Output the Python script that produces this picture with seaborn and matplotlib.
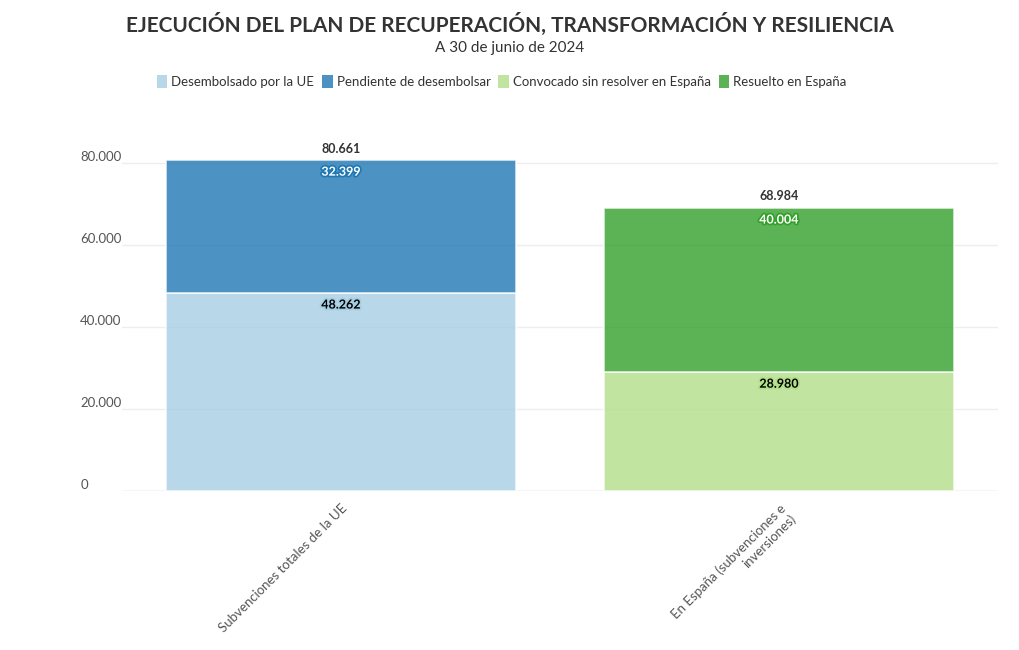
import matplotlib
matplotlib.use("Agg")
import matplotlib.pyplot as plt
import matplotlib.patheffects as pe
from matplotlib.patches import Patch
import seaborn as sns
import pandas as pd

categories = ["Subvenciones totales de la UE", "En España (subvenciones e inversiones)"]
tick_labels = ["Subvenciones totales de la UE", "En España (subvenciones e\ninversiones)"]
series_names = ["Desembolsado por la UE", "Pendiente de desembolsar",
                "Convocado sin resolver en España", "Resuelto en España"]
desembolsado = [48262, 0]
pendiente = [32399, 0]
convocado = [0, 28980]
resuelto = [0, 40004]
y_ticks = [0, 20000, 40000, 60000, 80000]

title = "EJECUCIÓN DEL PLAN DE RECUPERACIÓN, TRANSFORMACIÓN Y RESILIENCIA"
subtitle = "A 30 de junio de 2024"

sns.set_theme(style="white")
plt.rcParams["font.family"] = ["Lato", "DejaVu Sans"]

pal = sns.color_palette("Paired")[:4]
alpha = 0.8


def fmt(v):
    return f"{int(round(v)):,}".replace(",", ".")


df = pd.DataFrame({
    "cat": categories * 4,
    "serie": [s for s in series_names for _ in categories],
    "value": desembolsado + pendiente + convocado + resuelto,
})
# stacking: bottom segments are series 0 and 2, top segments are 1 and 3
df["base"] = 0.0
bottoms = {c: 0.0 for c in categories}
for i, row in df.iterrows():
    df.loc[i, "base"] = bottoms[row["cat"]]
    bottoms[row["cat"]] += row["value"]

fig = plt.figure(figsize=(10.2, 6.5), dpi=100)
ax = fig.add_axes([0.1196, 0.2446, 0.8588, 0.5554])

dark_series = {series_names[1], series_names[3]}
for i, row in df.iterrows():
    if row["value"] <= 0:
        continue
    k = series_names.index(row["serie"])
    sns.barplot(x=[row["cat"]], y=[row["value"]], order=categories, bottom=row["base"],
                color=pal[k], alpha=alpha, saturation=1, width=0.8,
                edgecolor="white", linewidth=1.2, ax=ax, zorder=3)
    xpos = categories.index(row["cat"])
    top = row["base"] + row["value"]
    if row["serie"] in dark_series:
        tc, sc = "white", pal[k]
    else:
        tc, sc = "black", pal[k]
    ax.annotate(fmt(row["value"]), (xpos, top), xytext=(0, -4), textcoords="offset points",
                ha="center", va="top", fontsize=9, fontweight="bold", color=tc, zorder=5,
                path_effects=[pe.withStroke(linewidth=2.5, foreground=sc)])

for j, c in enumerate(categories):
    ax.annotate(fmt(bottoms[c]), (j, bottoms[c]), xytext=(0, 4), textcoords="offset points",
                ha="center", va="bottom", fontsize=9, fontweight="bold", color="#333333", zorder=5)

ax.set_ylim(0, 88000)
ax.set_xlim(-0.5, 1.5)
ax.set_yticks(y_ticks)
ax.set_yticklabels([fmt(v) for v in y_ticks])
ax.set_xticks(range(len(categories)))
ax.set_xticklabels(tick_labels, rotation=45, ha="right", rotation_mode="anchor",
                   multialignment="right")
ax.set_xlabel("")
ax.set_ylabel("")
ax.grid(axis="y", color="#eeeeee", linewidth=1, zorder=0)
ax.axhline(0, color="#e6e6e6", linewidth=1, zorder=1)
for s in ax.spines.values():
    s.set_visible(False)
ax.tick_params(axis="y", length=0, pad=30, labelsize=9.5, labelcolor="#555555")
for lab in ax.get_yticklabels():
    lab.set_horizontalalignment("left")
    lab.set_verticalalignment("bottom")
ax.tick_params(axis="x", length=0, pad=8, labelsize=9.5, labelcolor="#555555")

fig.text(0.5, 0.963, title, ha="center", va="center", fontsize=15, fontweight="bold", color="#333333")
fig.text(0.5, 0.926, subtitle, ha="center", va="center", fontsize=11, color="#333333")

handles = [Patch(facecolor=pal[k], alpha=alpha, edgecolor="none") for k in range(4)]
fig.legend(handles, series_names, loc="center", bbox_to_anchor=(0.492, 0.875), ncol=4,
           frameon=False, fontsize=9.5, handlelength=0.8, handleheight=1.1, handletextpad=0.3,
           columnspacing=0.6, labelcolor="#333333")

fig.savefig("out.png", dpi=100)
